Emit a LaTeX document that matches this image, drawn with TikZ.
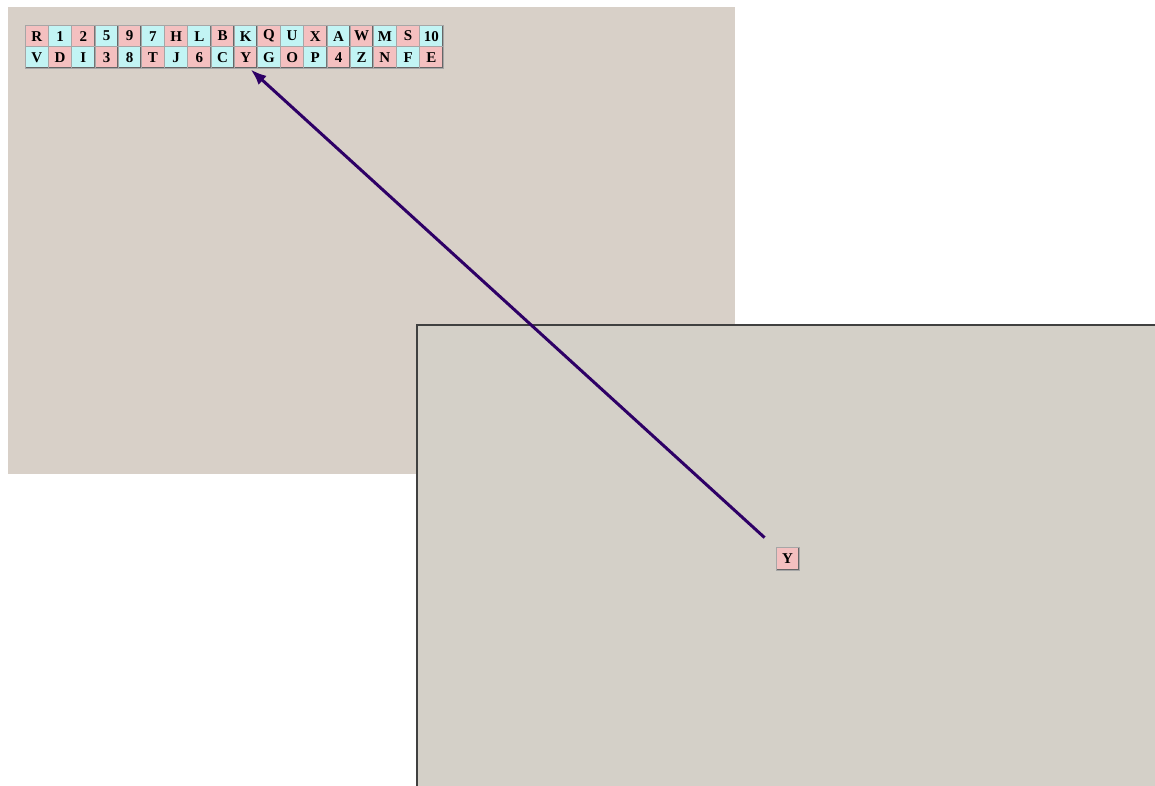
\documentclass[tikz,border=0pt]{standalone}
\usepackage{fontspec}
\setmainfont{Liberation Serif}
\usetikzlibrary{arrows.meta}
\definecolor{panelA}{HTML}{D8D0C8}
\definecolor{panelB}{HTML}{D4D0C8}
\definecolor{pinkc}{HTML}{F4C0C0}
\definecolor{cyanc}{HTML}{C2F4F4}
\definecolor{arrc}{HTML}{2E0066}
\definecolor{edgec}{HTML}{404040}
\tikzset{
  cell/.style={minimum width=23.2pt, minimum height=21.6pt, inner sep=0pt, outer sep=0pt,
    draw=black!35, line width=0.8pt,
    font=\fontsize{15}{15}\selectfont\bfseries,
    path picture={\draw[black!60, line width=2pt]
      (path picture bounding box.south west) -- (path picture bounding box.south east)
      -- (path picture bounding box.north east);
      \draw[white!70!gray, line width=1pt]
      (path picture bounding box.south west) -- (path picture bounding box.north west)
      -- (path picture bounding box.north east);}},
  pk/.style={cell, fill=pinkc},
  cy/.style={cell, fill=cyanc},
  arr/.style={draw=arrc, line width=3pt, -{Latex[length=16pt,width=12pt]}},
}
\begin{document}
\begin{tikzpicture}[x=1pt,y=-1pt]
\useasboundingbox (0,0) rectangle (1155,786);
\fill[white] (0,0) rectangle (1155,786);
\fill[panelA] (8,7) rectangle (735,474);
\fill[panelB] (416,324) rectangle (1155,786);
\draw[edgec, line width=2pt] (417,786) -- (417,325) -- (1155,325);
% row 1
\foreach \t [count=\i from 0] in {R,1,2,5,9,7,H,L,B,K,Q,U,X,A,W,M,S,10} {
  \pgfmathsetmacro{\xx}{25.3+23.2*(\i+0.5)}
  \pgfmathtruncatemacro{\pr}{mod(\i,2)}
  \ifnum\pr=0
    \node[pk] (a\i) at (\xx,36.1) {\t};
  \else
    \node[cy] (a\i) at (\xx,36.1) {\t};
  \fi
}
% row 2
\foreach \t [count=\i from 0] in {V,D,I,3,8,T,J,6,C,Y,G,O,P,4,Z,N,F,E} {
  \pgfmathsetmacro{\xx}{25.3+23.2*(\i+0.5)}
  \pgfmathtruncatemacro{\pr}{mod(\i,2)}
  \ifnum\pr=0
    \node[cy] (b\i) at (\xx,57.7) {\t};
  \else
    \node[pk] (b\i) at (\xx,57.7) {\t};
  \fi
}
\node[pk, minimum width=23pt, minimum height=23pt] (ynode) at (787.5,558.5) {Y};
\draw[arr, shorten <=31pt] (ynode.center) -- ([xshift=5pt,yshift=-1pt]b9.south);
\end{tikzpicture}
\end{document}
